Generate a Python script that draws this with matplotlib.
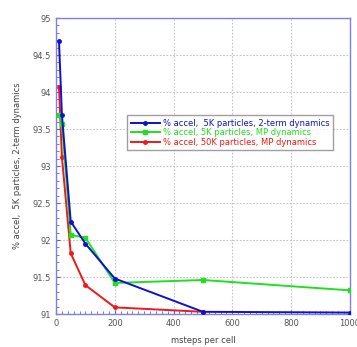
import numpy as np
import matplotlib.pyplot as plt
from matplotlib.ticker import MultipleLocator

# data
x_blue = [10, 20, 50, 100, 200, 500, 1000]
y_blue = [94.69, 93.69, 92.25, 91.95, 91.48, 91.03, 91.02]
x_green = [10, 20, 50, 100, 200, 500, 1000]
y_green = [93.69, 93.57, 92.07, 92.03, 91.42, 91.46, 91.32]
x_red = [10, 20, 50, 100, 200, 500]
y_red = [94.07, 93.12, 91.82, 91.39, 91.09, 91.03]

lab_blue = "% accel,  5K particles, 2-term dynamics"
lab_green = "% accel, 5K particles, MP dynamics"
lab_red = "% accel, 50K particles, MP dynamics"

fig = plt.figure(figsize=(3.57, 3.47), dpi=100)
ax = fig.add_axes([0.157, 0.095, 0.823, 0.853])

ax.plot(x_blue, y_blue, color='#1010d0', lw=1.4, marker='o', ms=2.5, label=lab_blue, zorder=4)
ax.plot(x_green, y_green, color='#20e020', lw=1.4, marker='s', ms=3, label=lab_green, zorder=3)
ax.plot(x_red, y_red, color='#f01818', lw=1.4, marker='o', ms=2.5, label=lab_red, zorder=2)

ax.set_xlim(0, 1000)
ax.set_ylim(91, 95)
ax.xaxis.set_major_locator(MultipleLocator(200))
ax.xaxis.set_minor_locator(MultipleLocator(20))
ax.yaxis.set_minor_locator(MultipleLocator(0.1))
ax.set_yticks(np.arange(91, 95.01, 0.5))
ax.set_yticklabels(['91', '91.5', '92', '92.5', '93', '93.5', '94', '94.5', '95'])

ax.grid(True, which='major', color='#c4c4c4', ls=(0, (1.5, 1.5)), lw=0.8)
for s in ax.spines.values():
    s.set_color('#8080e0')
    s.set_linewidth(1.0)
ax.tick_params(which='both', direction='in', colors='#6060d0', labelcolor='#555555',
               labelsize=6)
ax.tick_params(which='major', length=3)
ax.tick_params(which='minor', length=2)

ax.set_xlabel('msteps per cell', fontsize=6, color='#444444', labelpad=6)
ax.set_ylabel('% accel,  5K particles, 2-term dynamics', fontsize=6, color='#444444', labelpad=8)

leg = ax.legend(loc='upper left', bbox_to_anchor=(0.228, 0.685), fontsize=6,
                frameon=True, fancybox=False, handlelength=3.5, borderpad=0.4,
                labelspacing=0.05, handletextpad=0.4)
leg.get_frame().set_edgecolor('#888888')
leg.get_frame().set_linewidth(1.0)
for t, c in zip(leg.get_texts(), ['#1010d0', '#20e020', '#f01818']):
    t.set_color(c)

fig.savefig('out.png', dpi=100)
